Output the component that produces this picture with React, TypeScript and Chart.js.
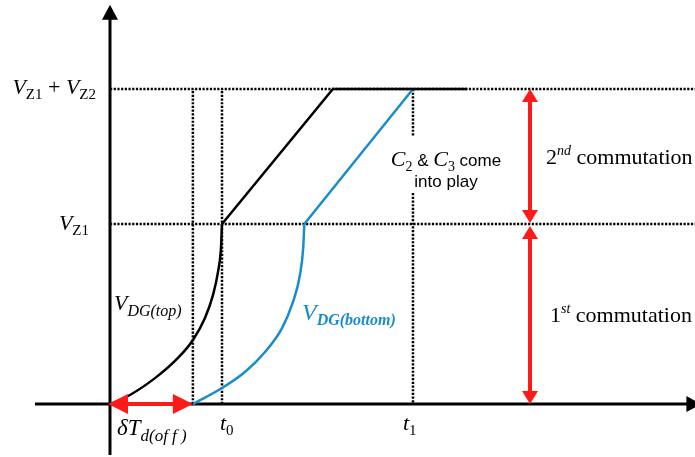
import React, { useEffect, useRef } from "react";
import { Chart, registerables } from "chart.js";

Chart.register(...registerables);

// ---- Data (normalised units: t0 = 1, V_Z1 = 1) ----
const VZ1 = 1.0;
const VZ1_VZ2 = 1.75;
const T_DELAY = 0.74;
const T0 = 1.0;
const T1 = 2.705;
const COMM_X = 3.75;

const topCurve: [number, number][] = [
  [0, 0], [0.134, 0.035], [0.402, 0.144], [0.607, 0.256], [0.741, 0.356], [0.848, 0.478],
  [0.92, 0.606], [0.964, 0.733], [0.991, 0.867], [1.0, 1.0],
];
const topRamp: [number, number][] = [[1.0, 1.0], [1.99, 1.75], [3.19, 1.75]];
const bottomCurve: [number, number][] = [
  [0.741, 0], [1.0, 0.089], [1.205, 0.178], [1.384, 0.289], [1.536, 0.422], [1.634, 0.567],
  [1.696, 0.717], [1.725, 0.867], [1.735, 1.0],
];
const bottomRamp: [number, number][] = [[1.735, 1.0], [2.705, 1.75]];
const t1GapTop = 1.483;
const t1GapBottom = 1.172;

// ---- view ----
const X_MIN = -0.982, X_MAX = 5.223, Y_MIN = -0.294, Y_MAX = 2.244;
const X_AXIS_LEFT = -0.67, X_AXIS_RIGHT = 5.28;
const Y_AXIS_BOTTOM = -0.283, Y_AXIS_TOP = 2.217;

const SERIF = '"Liberation Serif", "Times New Roman", serif';
const SANS = '"Liberation Sans", Arial, sans-serif';
const BLUE = "#1a8ccc";
const RED = "#ff1a1a";

const pts = (a: [number, number][]) => a.map(([x, y]) => ({ x, y }));

type Run = { t: string; size: number; italic?: boolean; bold?: boolean; sans?: boolean; dy?: number };
const fontOf = (r: Run) => `${r.italic ? "italic " : ""}${r.bold ? "bold " : ""}${r.size}px ${r.sans ? SANS : SERIF}`;

function drawRuns(ctx: CanvasRenderingContext2D, runs: Run[], x: number, y: number, align: string, color: string) {
  let w = 0;
  for (const r of runs) { ctx.font = fontOf(r); w += ctx.measureText(r.t).width; }
  let cx = align === "left" ? x : align === "right" ? x - w : x - w / 2;
  ctx.textAlign = "left";
  ctx.textBaseline = "alphabetic";
  ctx.fillStyle = color;
  for (const r of runs) {
    ctx.font = fontOf(r);
    ctx.fillText(r.t, cx, y + (r.dy || 0));
    cx += ctx.measureText(r.t).width;
  }
}

function arrowHead(ctx: CanvasRenderingContext2D, tx: number, ty: number, dx: number, dy: number, len: number, half: number) {
  const bx = tx - dx * len, by = ty - dy * len;
  ctx.beginPath();
  ctx.moveTo(tx, ty);
  ctx.lineTo(bx - dy * half, by + dx * half);
  ctx.lineTo(bx + dy * half, by - dx * half);
  ctx.closePath();
  ctx.fill();
}

function doubleArrow(ctx: CanvasRenderingContext2D, x1: number, y1: number, x2: number, y2: number, len: number, half: number, lw: number) {
  const L = Math.hypot(x2 - x1, y2 - y1);
  const dx = (x2 - x1) / L, dy = (y2 - y1) / L;
  ctx.lineWidth = lw;
  ctx.beginPath();
  ctx.moveTo(x1 + dx * (len - 2), y1 + dy * (len - 2));
  ctx.lineTo(x2 - dx * (len - 2), y2 - dy * (len - 2));
  ctx.stroke();
  arrowHead(ctx, x2, y2, dx, dy, len, half);
  arrowHead(ctx, x1, y1, -dx, -dy, len, half);
}

const diagramPlugin = {
  id: "diagram",
  beforeDatasetsDraw(chart: any) {
    const ctx: CanvasRenderingContext2D = chart.ctx;
    const xs = chart.scales.x, ys = chart.scales.y;
    const X = (v: number) => xs.getPixelForValue(v);
    const Y = (v: number) => ys.getPixelForValue(v);
    ctx.save();
    ctx.strokeStyle = "#000";
    ctx.fillStyle = "#000";
    ctx.lineWidth = 3;
    // y axis
    const ax = X(0);
    const yTip = Y(Y_AXIS_TOP);
    ctx.beginPath();
    ctx.moveTo(ax, Y(Y_AXIS_BOTTOM));
    ctx.lineTo(ax, yTip + 10);
    ctx.stroke();
    arrowHead(ctx, ax, yTip, 0, -1, 15, 8);
    // x axis
    const ay = Y(0);
    const xTip = X(X_AXIS_RIGHT);
    ctx.beginPath();
    ctx.moveTo(X(X_AXIS_LEFT), ay);
    ctx.lineTo(xTip - 10, ay);
    ctx.stroke();
    arrowHead(ctx, xTip, ay, 1, 0, 15, 8);
    ctx.restore();
  },
  afterDatasetsDraw(chart: any) {
    const ctx: CanvasRenderingContext2D = chart.ctx;
    const xs = chart.scales.x, ys = chart.scales.y;
    const X = (v: number) => xs.getPixelForValue(v);
    const Y = (v: number) => ys.getPixelForValue(v);
    ctx.save();
    // red arrows
    ctx.strokeStyle = RED;
    ctx.fillStyle = RED;
    doubleArrow(ctx, X(0) - 2, Y(0), X(T_DELAY), Y(0), 20, 10, 4);
    doubleArrow(ctx, X(COMM_X), Y(VZ1_VZ2), X(COMM_X), Y(VZ1) - 1, 13, 8, 4);
    doubleArrow(ctx, X(COMM_X), Y(VZ1) + 2, X(COMM_X), Y(0), 13, 8, 4);

    // labels
    const x0 = X(0), y0 = Y(0);
    drawRuns(ctx, [
      { t: "V", size: 22, italic: true }, { t: "Z1", size: 15, dy: 5 },
      { t: " + ", size: 22 },
      { t: "V", size: 22, italic: true }, { t: "Z2", size: 15, dy: 5 },
    ], x0 - 14, Y(VZ1_VZ2) + 5, "right", "#000");
    drawRuns(ctx, [{ t: "V", size: 22, italic: true }, { t: "Z1", size: 15, dy: 5 }],
      x0 - 21, Y(VZ1) + 6, "right", "#000");
    drawRuns(ctx, [{ t: "V", size: 22, italic: true }, { t: "DG(top)", size: 16, italic: true, dy: 6 }],
      x0 + 4, y0 - 94, "left", "#000");
    drawRuns(ctx, [{ t: "V", size: 24, italic: true }, { t: "DG(bottom)", size: 16, italic: true, bold: true, dy: 5 }],
      X(T1) - 111, y0 - 84, "left", BLUE);
    drawRuns(ctx, [{ t: "δ", size: 23, italic: true }, { t: "T", size: 23, italic: true }, { t: "d(of f )", size: 17, italic: true, dy: 6 }],
      x0 + 7, y0 + 31, "left", "#000");
    drawRuns(ctx, [{ t: "t", size: 22, italic: true }, { t: "0", size: 15, dy: 5 }],
      X(T0) - 2, y0 + 26, "left", "#000");
    drawRuns(ctx, [{ t: "t", size: 22, italic: true }, { t: "1", size: 15, dy: 5 }],
      X(T1) - 10, y0 + 26, "left", "#000");
    drawRuns(ctx, [
      { t: "C", size: 22, italic: true }, { t: "2", size: 14, dy: 5 },
      { t: " & ", size: 17, sans: true },
      { t: "C", size: 22, italic: true }, { t: "3", size: 14, dy: 5 },
      { t: " come", size: 17, sans: true },
    ], X(T1) + 33, Y(VZ1_VZ2) + 77, "center", "#000");
    drawRuns(ctx, [{ t: "into play", size: 17, sans: true }], X(T1) + 33, Y(VZ1_VZ2) + 98, "center", "#000");
    drawRuns(ctx, [{ t: "2", size: 22 }, { t: "nd", size: 14, italic: true, dy: -9 }, { t: " commutation", size: 22 }],
      X(COMM_X) + 16, Y((VZ1 + VZ1_VZ2) / 2) + 8, "left", "#000");
    drawRuns(ctx, [{ t: "1", size: 22 }, { t: "st", size: 14, italic: true, dy: -9 }, { t: " commutation", size: 22 }],
      X(COMM_X) + 20, Y(VZ1 / 2) + 8, "left", "#000");
    ctx.restore();
  },
};

export default function App() {
  const ref = useRef<HTMLCanvasElement>(null);
  useEffect(() => {
    if (!ref.current) return;
    const dotted = { borderColor: "#000", borderWidth: 2.5, borderDash: [2.2, 1.5], pointRadius: 0, fill: false, tension: 0 };
    const chart = new Chart(ref.current, {
      type: "line",
      data: {
        datasets: [
          { label: "VDG(top) rise", data: pts(topCurve), borderColor: "#000", borderWidth: 2.5, pointRadius: 0, cubicInterpolationMode: "monotone" },
          { label: "VDG(top) ramp", data: pts(topRamp), borderColor: "#000", borderWidth: 2.5, pointRadius: 0, tension: 0 },
          { label: "VDG(bottom) rise", data: pts(bottomCurve), borderColor: BLUE, borderWidth: 2.5, pointRadius: 0, cubicInterpolationMode: "monotone" },
          { label: "VDG(bottom) ramp", data: pts(bottomRamp), borderColor: BLUE, borderWidth: 2.5, pointRadius: 0, tension: 0 },
          { label: "VZ1+VZ2", data: [{ x: 0, y: VZ1_VZ2 }, { x: X_MAX + 1, y: VZ1_VZ2 }], ...dotted },
          { label: "VZ1", data: [{ x: 0, y: VZ1 }, { x: X_MAX + 1, y: VZ1 }], ...dotted },
          { label: "dT", data: [{ x: T_DELAY, y: 0 }, { x: T_DELAY, y: VZ1_VZ2 }], ...dotted },
          { label: "t0", data: [{ x: T0, y: 0 }, { x: T0, y: VZ1_VZ2 }], ...dotted },
          { label: "t1", data: [{ x: T1, y: VZ1_VZ2 }, { x: T1, y: t1GapTop }, { x: T1, y: null }, { x: T1, y: t1GapBottom }, { x: T1, y: 0 }], ...dotted, spanGaps: false },
        ] as any,
      },
      options: {
        responsive: false,
        animation: false,
        events: [],
        layout: { padding: 0 },
        plugins: { legend: { display: false }, tooltip: { enabled: false }, title: { display: false } },
        scales: {
          x: { type: "linear", min: X_MIN, max: X_MAX, display: false },
          y: { type: "linear", min: Y_MIN, max: Y_MAX, display: false },
        },
      },
      plugins: [diagramPlugin],
    });
    return () => chart.destroy();
  }, []);
  return (
    <div style={{ position: "absolute", left: 0, top: 0, width: 695, height: 457, background: "#fff" }}>
      <canvas ref={ref} width={695} height={457} style={{ display: "block" }} />
    </div>
  );
}
